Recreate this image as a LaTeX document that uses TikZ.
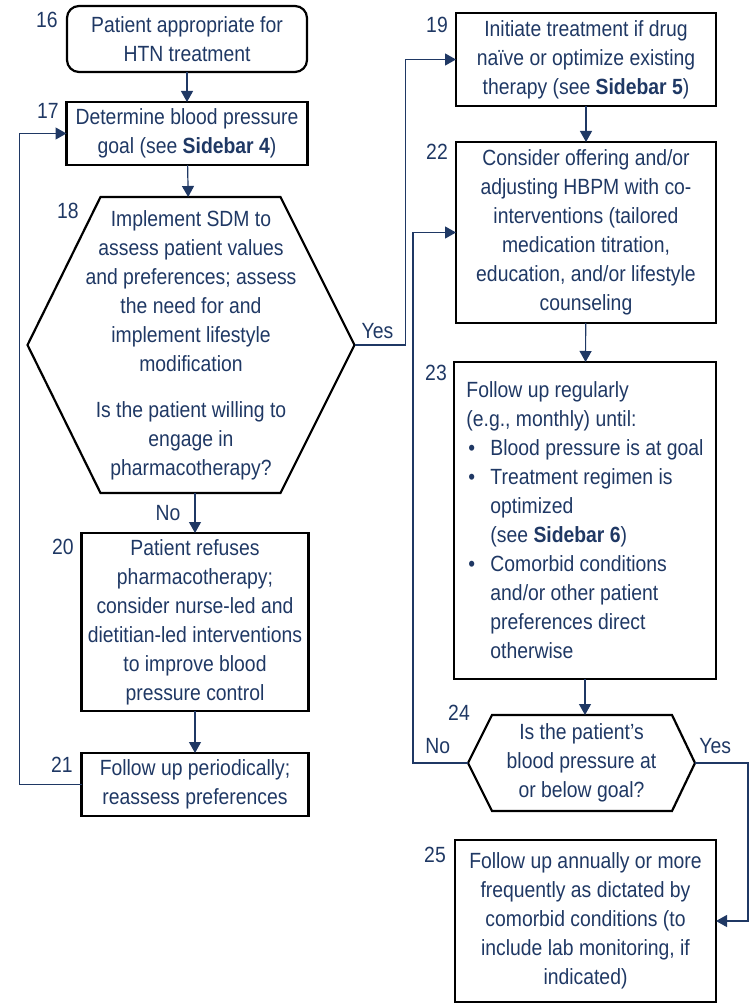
\documentclass[tikz,border=0pt]{standalone}
\usepackage{fontspec}
\setmainfont{Liberation Sans}[FakeStretch=0.88]
\usetikzlibrary{arrows.meta, positioning}
\definecolor{navy}{RGB}{31,56,100}
\newcommand{\bulmark}{\makebox[24pt][l]{\hspace{2pt}\textbullet}}
\newcommand{\bulgap}{\hspace*{24pt}}

\tikzset{
  box/.style={draw=black, line width=2.2pt, text=navy, align=center, inner sep=2pt, outer sep=0pt},
  hexnode/.style={inner sep=0pt, outer sep=0pt, text=navy, align=center},
  hexline/.style={draw=black, line width=2.2pt},
  num/.style={text=navy, inner sep=0pt},
  lbl/.style={text=navy, inner sep=0pt},
  flow/.style={navy, line width=1.2pt, -{Triangle[width=12pt,length=11pt]}}
}

\begin{document}
\begin{tikzpicture}[x=1pt, y=-1pt, font=\fontsize{22}{29}\selectfont]
\useasboundingbox (0,0) rectangle (751,1008);

% left column
  \node[box, rounded corners=12pt, minimum width=240pt, minimum height=66pt] (n16) at (187,39)
{Patient appropriate for\\HTN treatment};
  \node[box, minimum width=241pt, minimum height=63pt] (n17) [below=30pt of n16]
{Determine blood pressure\\goal (see \textbf{Sidebar 4})};
  \node[hexnode, minimum width=327pt, minimum height=296pt] (n18) [below=32pt of n17, xshift=4pt]
{Implement SDM to\\assess patient values\\and preferences; assess\\the need for and\\implement lifestyle\\modification\\[17pt]Is the patient willing to\\engage in\\pharmacotherapy?};
  \node[box, minimum width=227pt, minimum height=178pt] (n20) [below=40pt of n18, xshift=4pt]
{Patient refuses\\pharmacotherapy;\\consider nurse-led and\\dietitian-led interventions\\to improve blood\\pressure control};
  \node[box, minimum width=227pt, minimum height=63pt] (n21) [below=42pt of n20]
{Follow up periodically;\\reassess preferences};

% right column
  \node[box, minimum width=260pt, minimum height=93pt] (n19) at (586,59.5)
{Initiate treatment if drug\\naïve or optimize existing\\therapy (see \textbf{Sidebar 5})};
  \node[box, minimum width=260pt, minimum height=181pt] (n22) [below=36pt of n19]
{Consider offering and/or\\adjusting HBPM with co-\\interventions (tailored\\medication titration,\\education, and/or lifestyle\\counseling};
  \node[box, align=left, minimum width=262pt, minimum height=317pt] (n23) [below=39pt of n22, xshift=-1pt]
{Follow up regularly\\(e.g., monthly) until:\\\bulmark Blood pressure is at goal\\\bulmark Treatment regimen is\\\bulgap optimized\\\bulgap (see \textbf{Sidebar 6})\\\bulmark Comorbid conditions\\\bulgap and/or other patient\\\bulgap preferences direct\\\bulgap otherwise};
  \node[hexnode, minimum width=227pt, minimum height=96pt] (n24) [below=36pt of n23, xshift=-3.5pt]
{Is the patient’s\\blood pressure at\\or below goal?};
  \node[box, minimum width=261pt, minimum height=162pt] (n25) [below=29pt of n24, xshift=4pt]
{Follow up annually or more\\frequently as dictated by\\comorbid conditions (to\\include lab monitoring, if\\indicated)};

% hexagon outlines
  \draw[hexline] ([xshift=73pt]n18.north west) -- ([xshift=-74pt]n18.north east) -- (n18.east)
    -- ([xshift=-74pt]n18.south east) -- ([xshift=73pt]n18.south west) -- (n18.west) -- cycle;
  \draw[hexline] ([xshift=24pt]n24.north west) -- ([xshift=-23pt]n24.north east) -- (n24.east)
    -- ([xshift=-23pt]n24.south east) -- ([xshift=24pt]n24.south west) -- (n24.west) -- cycle;

% step numbers
  \node[num] (l16) at (47,20) {16};
  \node[num] (l17) at (48,111) {17};
  \node[num] (l18) at (68,211) {18};
  \node[num] (l20) at (63,547) {20};
  \node[num] (l21) at (62,765) {21};
  \node[num] (l19) at (437,25) {19};
  \node[num] (l22) at (437,152) {22};
  \node[num] (l23) at (436,373) {23};
  \node[num] (l24) at (459,713) {24};
  \node[num] (l25) at (435,855) {25};

% define the links
  \draw[flow] (n16) -- (n17);
  \draw[flow] (n17) -- (n18);
  \draw[flow] (n18.south -| n20.north) -- node[lbl, left=14pt] {No} (n20.north);
  \draw[flow] (n20) -- (n21);
  \draw[flow] (n21.west) -- ++(-62,0) |- (n17.west);
  \draw[flow] (n18.east) -- node[lbl, above=6pt, pos=0.45] {Yes} ++(51,0) |- (n19.west);
  \draw[flow] (n19) -- (n22);
  \draw[flow] (n22) -- (n23);
  \draw[flow] (n23.south) -- (n23.south |- n24.north);
  \draw[flow] (n24.west) -- node[lbl, above=9pt, pos=0.55] {No} ++(-55,0) |- (n22.west);
  \draw[flow] (n24.east) -- node[lbl, above=9pt, pos=0.38] {Yes} ++(53,0) |- (n25.east);

\end{tikzpicture}
\end{document}
